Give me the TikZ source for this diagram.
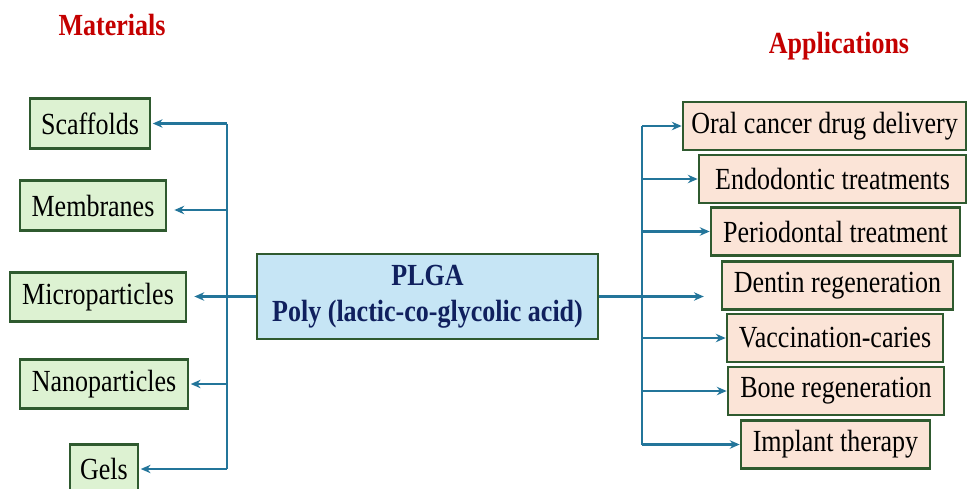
\documentclass[tikz,border=0pt]{standalone}
\usepackage{xcolor}
\usepackage{graphicx}
\usepackage{fontspec}
\setmainfont{Liberation Serif}
\usepackage{tikz}
\usetikzlibrary{arrows.meta,calc}

\definecolor{matfill}{HTML}{DDF2D2}
\definecolor{appfill}{HTML}{FBE4D7}
\definecolor{plgafill}{HTML}{C6E5F5}
\definecolor{boxline}{HTML}{2F5A2F}
\definecolor{linkcol}{HTML}{23759A}
\definecolor{plgatext}{HTML}{10205E}
\definecolor{titlered}{HTML}{C40000}

% slightly taller lettering
\newcommand{\tall}[1]{\scalebox{1}[1.18]{#1}}

\tikzset{
    base/.style={draw=boxline, line width=1.9pt, inner sep=0pt, font=\fontsize{18.5}{22}\selectfont},
    matbox/.style={base, fill=matfill, minimum width=#1*0.025cm, minimum height=1.24cm},
    appbox/.style={base, fill=appfill, minimum width=#1*0.025cm, minimum height=1.2cm},
    link/.style={draw=linkcol, line width=1.7pt},
    arrow/.style={link, -{Stealth[length=7pt,width=6pt]}},
    title/.style={font=\fontsize{18.5}{22}\selectfont\bfseries, text=titlered, anchor=base}
}

\begin{document}
\begin{tikzpicture}[x=0.025cm, y=-0.025cm]
    \useasboundingbox (0,0) rectangle (967,488);
    \clip (0,0) rectangle (967,488);

    % Headings
    \node[title] (mattitle) at (112,35) {\tall{Materials}};
    \node[title] (apptitle) at (839,53) {\tall{Applications}};

    % Centre box
    \node[base, fill=plgafill, text=plgatext, font=\fontsize{18.5}{26}\selectfont\bfseries,
          minimum width=341*0.025cm, minimum height=85*0.025cm, align=center]
          (plga) at (427.5,296.5) {\tall{PLGA}\\\tall{Poly (lactic-co-glycolic acid)}};

    % Left column - materials
    \node[matbox=120] (scaf)  at (90,123.5)  {\tall{Scaffolds}};
    \node[matbox=146] (memb)  at (93,205.5)  {\tall{Membranes}};
    \node[matbox=176] (micro) at (98,297)    {\tall{Microparticles}};
    \node[matbox=168] (nano)  at (104,384)   {\tall{Nanoparticles}};
    \node[matbox=68]  (gels)  at (104,469)   {\tall{Gels}};

    % Right column - applications
    \node[appbox=283] (oral)   at (824.5,126)  {\tall{Oral cancer drug delivery}};
    \node[appbox=267] (endo)   at (832.5,179)  {\tall{Endodontic treatments}};
    \node[appbox=249] (perio)  at (835.5,231.5){\tall{Periodontal treatment}};
    \node[appbox=231] (dentin) at (837.5,285.5){\tall{Dentin regeneration}};
    \node[appbox=216] (vacc)   at (835,338)    {\tall{Vaccination-caries}};
    \node[appbox=216] (bone)   at (836,391)    {\tall{Bone regeneration}};
    \node[appbox=189] (impl)   at (835.5,444.5){\tall{Implant therapy}};

    % Trunks
    \coordinate (ltrunk) at (227,0);
    \coordinate (rtrunk) at (642,0);
    \draw[link] (ltrunk |- scaf) -- (ltrunk |- gels);
    \draw[link] (rtrunk |- oral) -- (rtrunk |- impl);

    % Branches to the materials
    \draw[arrow] (ltrunk |- scaf) -- ([xshift=1]scaf.east);
    \draw[arrow, shorten >=5] (ltrunk |- memb.east) ++(0,4.5) -- ($(memb.east)+(0,4.5)$);
    \draw[arrow, shorten >=5] (plga.west) -- (micro.east |- plga.west);
    \draw[arrow] (ltrunk |- nano) -- ([xshift=1]nano.east);
    \draw[arrow] (ltrunk |- gels) -- ([xshift=1]gels.east);

    % Branches to the applications
    \draw[arrow] (rtrunk |- oral) -- (oral.west);
    \draw[arrow] (rtrunk |- endo) -- (endo.west);
    \draw[arrow] (rtrunk |- perio) -- (perio.west);
    \draw[arrow, shorten >=12] (plga.east) -- (dentin.west |- plga.east);
    \draw[arrow] (rtrunk |- vacc) -- (vacc.west);
    \draw[arrow] (rtrunk |- bone) -- (bone.west);
    \draw[arrow] (rtrunk |- impl) -- (impl.west);

\end{tikzpicture}
\end{document}
